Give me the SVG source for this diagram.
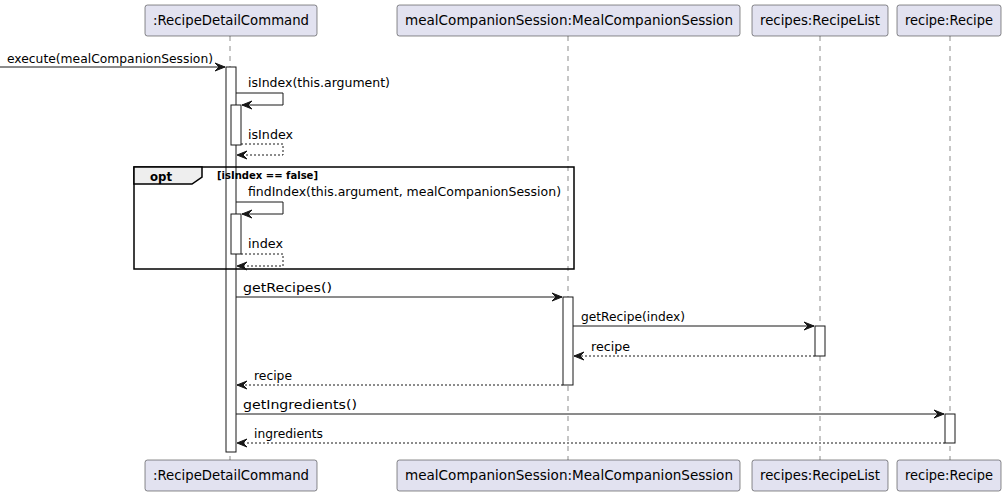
<svg xmlns="http://www.w3.org/2000/svg" width="1007" height="496" viewBox="0 0 1007 496">
<style>
.pbox{fill:#E2E2F0;stroke:#181818;stroke-width:0.5}
.ptxt{font-family:"DejaVu Sans","Liberation Sans",Arial,sans-serif;font-size:13.5px;fill:#000}
.life{stroke:#181818;stroke-width:0.5;stroke-dasharray:5,5;fill:none}
.act{fill:#FFFFFF;stroke:#181818;stroke-width:1}
.msg{stroke:#181818;stroke-width:1;fill:none}
.ret{stroke:#181818;stroke-width:1;fill:none;stroke-dasharray:2,2}
.mtxt{font-family:"DejaVu Sans","Liberation Sans",Arial,sans-serif;font-size:12.5px;fill:#000}
.head{fill:#181818;stroke:#181818;stroke-width:1}
.frame{fill:none;stroke:#000;stroke-width:1.5}
.tab{fill:#EEEEEE;stroke:#000;stroke-width:1.5}
.btxt{font-family:"DejaVu Sans","Liberation Sans",Arial,sans-serif;font-weight:bold;fill:#000}
</style>
<defs>
<polygon id="hr" points="-10,-4 0,0 -10,4 -6,0" class="head"/>
<polygon id="hl" points="10,-4 0,0 10,4 6,0" class="head"/>
</defs>
<g id="lifelines">
<line class="life" x1="230" y1="36" x2="230" y2="460"/>
<line class="life" x1="568" y1="36" x2="568" y2="460"/>
<line class="life" x1="820" y1="36" x2="820" y2="460"/>
<line class="life" x1="950" y1="36" x2="950" y2="460"/>
</g>
<g id="p_cmd">
<rect class="pbox" x="145" y="5" width="172" height="31" rx="2.5"/>
<text class="ptxt" x="153" y="25" textLength="156" lengthAdjust="spacingAndGlyphs">:RecipeDetailCommand</text>
<rect class="pbox" x="145" y="460" width="172" height="31" rx="2.5"/>
<text class="ptxt" x="153" y="480" textLength="156" lengthAdjust="spacingAndGlyphs">:RecipeDetailCommand</text>
</g>
<g id="p_session">
<rect class="pbox" x="397" y="5" width="343" height="31" rx="2.5"/>
<text class="ptxt" x="405" y="25" textLength="328" lengthAdjust="spacingAndGlyphs">mealCompanionSession:MealCompanionSession</text>
<rect class="pbox" x="397" y="460" width="343" height="31" rx="2.5"/>
<text class="ptxt" x="405" y="480" textLength="328" lengthAdjust="spacingAndGlyphs">mealCompanionSession:MealCompanionSession</text>
</g>
<g id="p_list">
<rect class="pbox" x="752" y="5" width="136" height="31" rx="2.5"/>
<text class="ptxt" x="760" y="25" textLength="120" lengthAdjust="spacingAndGlyphs">recipes:RecipeList</text>
<rect class="pbox" x="752" y="460" width="136" height="31" rx="2.5"/>
<text class="ptxt" x="760" y="480" textLength="120" lengthAdjust="spacingAndGlyphs">recipes:RecipeList</text>
</g>
<g id="p_recipe">
<rect class="pbox" x="897" y="5" width="104" height="31" rx="2.5"/>
<text class="ptxt" x="905" y="25" textLength="88" lengthAdjust="spacingAndGlyphs">recipe:Recipe</text>
<rect class="pbox" x="897" y="460" width="104" height="31" rx="2.5"/>
<text class="ptxt" x="905" y="480" textLength="88" lengthAdjust="spacingAndGlyphs">recipe:Recipe</text>
</g>
<g id="activations">
<rect class="act" x="226" y="67" width="10" height="385"/>
<rect class="act" x="231" y="105" width="10" height="40"/>
<rect class="act" x="231" y="214" width="10" height="40"/>
<rect class="act" x="563" y="297" width="10" height="88"/>
<rect class="act" x="815" y="326" width="10" height="30"/>
<rect class="act" x="945" y="414" width="10" height="29"/>
</g>
<g id="opt_frame">
<rect class="frame" x="134" y="167" width="440" height="102"/>
<polygon class="tab" points="134,167 202,167 202,177 192,184 134,184"/>
<text class="btxt" x="150" y="180.5" font-size="12.5" textLength="22" lengthAdjust="spacingAndGlyphs">opt</text>
<text class="btxt" x="217" y="179" font-size="10.5" textLength="101" lengthAdjust="spacingAndGlyphs">[isIndex == false]</text>
</g>
<g id="connectors">
<line class="msg" x1="0" y1="67" x2="225" y2="67"/>
<use href="#hr" x="225" y="67"/>
<text class="mtxt" x="7" y="63" textLength="206" lengthAdjust="spacingAndGlyphs">execute(mealCompanionSession)</text>

<polyline class="msg" points="236,93 283,93 283,105 242,105"/>
<use href="#hl" x="242" y="105"/>
<text class="mtxt" x="248" y="87" textLength="142" lengthAdjust="spacingAndGlyphs">isIndex(this.argument)</text>

<polyline class="ret" points="241,144 283,144 283,155 237,155"/>
<use href="#hl" x="237" y="155"/>
<text class="mtxt" x="248" y="139" textLength="45" lengthAdjust="spacingAndGlyphs">isIndex</text>

<polyline class="msg" points="236,202 283,202 283,214 242,214"/>
<use href="#hl" x="242" y="214"/>
<text class="mtxt" x="248" y="196" textLength="313" lengthAdjust="spacingAndGlyphs">findIndex(this.argument, mealCompanionSession)</text>

<polyline class="ret" points="241,254 283,254 283,266 237,266"/>
<use href="#hl" x="237" y="266"/>
<text class="mtxt" x="248" y="248" textLength="35" lengthAdjust="spacingAndGlyphs">index</text>

<line class="msg" x1="236" y1="297" x2="562" y2="297"/>
<use href="#hr" x="562" y="297"/>
<text class="mtxt" x="243" y="292" textLength="89" lengthAdjust="spacingAndGlyphs">getRecipes()</text>

<line class="msg" x1="573" y1="326" x2="814" y2="326"/>
<use href="#hr" x="814" y="326"/>
<text class="mtxt" x="581" y="321" textLength="104" lengthAdjust="spacingAndGlyphs">getRecipe(index)</text>

<line class="ret" x1="815" y1="356" x2="574" y2="356"/>
<use href="#hl" x="574" y="356"/>
<text class="mtxt" x="591" y="351" textLength="39" lengthAdjust="spacingAndGlyphs">recipe</text>

<line class="ret" x1="563" y1="385" x2="237" y2="385"/>
<use href="#hl" x="237" y="385"/>
<text class="mtxt" x="254" y="380" textLength="38" lengthAdjust="spacingAndGlyphs">recipe</text>

<line class="msg" x1="236" y1="414" x2="944" y2="414"/>
<use href="#hr" x="944" y="414"/>
<text class="mtxt" x="243" y="409" textLength="114" lengthAdjust="spacingAndGlyphs">getIngredients()</text>

<line class="ret" x1="945" y1="443" x2="237" y2="443"/>
<use href="#hl" x="237" y="443"/>
<text class="mtxt" x="254" y="438" textLength="69" lengthAdjust="spacingAndGlyphs">ingredients</text>
</g>
</svg>
